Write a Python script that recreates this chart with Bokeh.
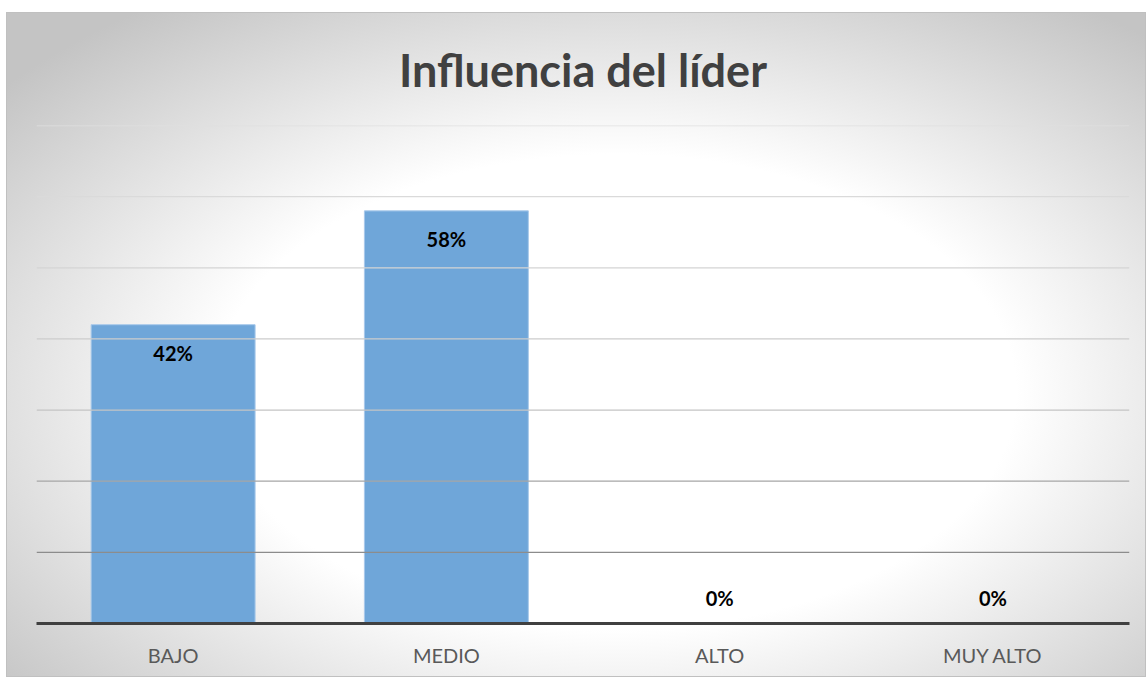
from bokeh.plotting import figure
from bokeh.models import ColumnDataSource, Span, FactorRange
from bokeh.embed import file_html
from bokeh.resources import INLINE
from bokeh.core.properties import value

categories = ["BAJO", "MEDIO", "ALTO", "MUY ALTO"]
shares = [0.42, 0.58, 0.0, 0.0]
labels = ["42%", "58%", "0%", "0%"]
grid_ticks = [0.1, 0.2, 0.3, 0.4, 0.5, 0.6, 0.7]
grid_colors = ["#8c8c8c", "#a6a6a6", "#c4c4c4", "#cccccc", "#d4d4d4", "#dadada", "#e0e0e0"]

FONT = "Lato"

src = ColumnDataSource(dict(
    cat=categories,
    val=shares,
    lab=labels,
    off=[28 if v > 0 else -26 for v in shares],
))

p = figure(
    x_range=FactorRange(*categories, range_padding=0),
    y_range=(0, 0.7),
    width=1140, height=665,
    output_backend="svg", toolbar_location=None,
    min_border_left=30, min_border_right=17,
    min_border_top=112, min_border_bottom=54,
)
p.styles = {
    "margin-left": "6px",
    "margin-top": "12px",
    "background": "radial-gradient(ellipse 800px 475px at 610px 380px, #ffffff 0%, #ffffff 50%, #c4c4c4 100%)",
    "box-shadow": "inset 0 0 0 1px #c0c0c0",
}
p.background_fill_alpha = 0
p.border_fill_alpha = 0
p.outline_line_color = None

p.title.text = "Influencia del líder"
p.title.align = "center"
p.title.text_font = FONT
p.title.text_font_size = "45px"
p.title.text_font_style = "bold"
p.title.text_color = "#404040"
p.title.standoff = 57

p.ygrid.grid_line_color = None
p.xgrid.grid_line_color = None
for t, c in zip(grid_ticks, grid_colors):
    p.add_layout(Span(location=t, dimension="width", line_color=c, line_width=1.3))

p.vbar(x="cat", top="val", width=0.6, source=src,
       fill_color="#6fa6d9", line_color="#a8c9ea", line_width=1)

p.text(x="cat", y="val", text="lab", source=src, y_offset="off",
       text_align="center", text_baseline="middle",
       text_font=value(FONT), text_font_size="20px", text_font_style="bold",
       text_color="#000000")

p.yaxis.visible = False
p.xaxis.axis_line_color = "#404040"
p.xaxis.axis_line_width = 3
p.xaxis.major_tick_line_color = None
p.xaxis.minor_tick_line_color = None
p.xaxis.major_label_text_font = FONT
p.xaxis.major_label_text_font_size = "20px"
p.xaxis.major_label_text_color = "#595959"
p.xaxis.major_label_standoff = 13

open("out.html", "w").write(file_html(p, INLINE))
